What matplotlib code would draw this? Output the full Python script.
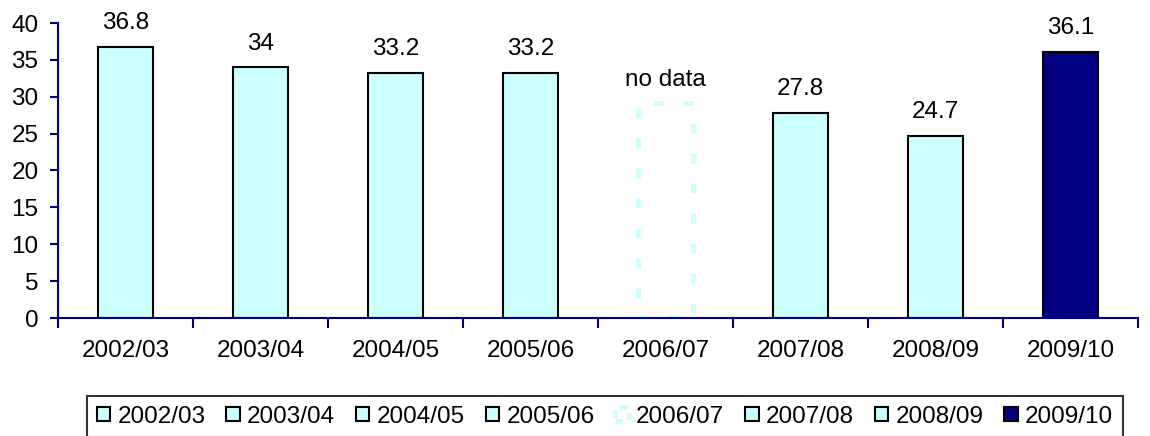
import matplotlib.pyplot as plt
import numpy as np
from matplotlib.patches import Rectangle

plt.rcParams['font.family'] = ['Liberation Sans', 'DejaVu Sans']

years = ['2002/03', '2003/04', '2004/05', '2005/06', '2006/07', '2007/08', '2008/09', '2009/10']
values = [36.8, 34, 33.2, 33.2, 29.2, 27.8, 24.7, 36.1]
labels = ['36.8', '34', '33.2', '33.2', 'no data', '27.8', '24.7', '36.1']
missing = [False, False, False, False, True, False, False, False]

light = '#CCFFFF'
navy = '#000080'
fs = 17.5

fig = plt.figure(figsize=(11.5, 4.36), dpi=100)
ax = fig.add_axes([58 / 1150, 118 / 436, 1080 / 1150, 295 / 436])

x = np.arange(len(years))
handles = []
for i, (yr, v, lab, miss) in enumerate(zip(years, values, labels, missing)):
    color = navy if i == len(years) - 1 else light
    if miss:
        ax.bar(i, v, width=0.41, facecolor='none', edgecolor=light,
               linewidth=3.6, linestyle=(0, (2, 4)))
        ax.text(i, 31.5, lab, ha='center', va='baseline', fontsize=fs)
        h = Rectangle((0, 0), 1, 1, facecolor='none', edgecolor=light,
                      linewidth=3.6, linestyle=(0, (1.5, 1.5)))
    else:
        ax.bar(i, v, width=0.41, color=color, edgecolor='black', linewidth=1.5)
        ax.text(i, v + 2.4, lab, ha='center', va='baseline', fontsize=fs)
        h = Rectangle((0, 0), 1, 1, facecolor=color, edgecolor='black', linewidth=1.5)
    handles.append(h)

ax.set_xlim(-0.5, len(years) - 0.5)
ax.set_ylim(0, 40)
ax.set_yticks(range(0, 41, 5))
ax.set_xticks(np.arange(-0.5, len(years), 1))
ax.set_xticklabels([])
ax.set_xticks(x, minor=True)
ax.set_xticklabels(years, minor=True)
ax.tick_params(axis='x', which='major', length=7, width=1.5, color=navy, direction='out')
ax.tick_params(axis='x', which='minor', length=0, pad=16, labelsize=fs)
ax.tick_params(axis='y', length=6, width=1.5, color=navy, direction='out', labelsize=fs, pad=8)

for s in ['top', 'right']:
    ax.spines[s].set_visible(False)
for s in ['left', 'bottom']:
    ax.spines[s].set_color(navy)
    ax.spines[s].set_linewidth(1.5)

leg = fig.legend(handles, years, loc='upper left', bbox_to_anchor=(87 / 1150, 1 - 396 / 436),
                 ncol=8, fontsize=fs, frameon=True, fancybox=False, edgecolor='black',
                 handlelength=0.55, handleheight=0.55, handletextpad=0.3, columnspacing=0.86,
                 borderpad=0.4, borderaxespad=0)
leg.get_frame().set_linewidth(1.5)

fig.savefig('out.png', dpi=100)
